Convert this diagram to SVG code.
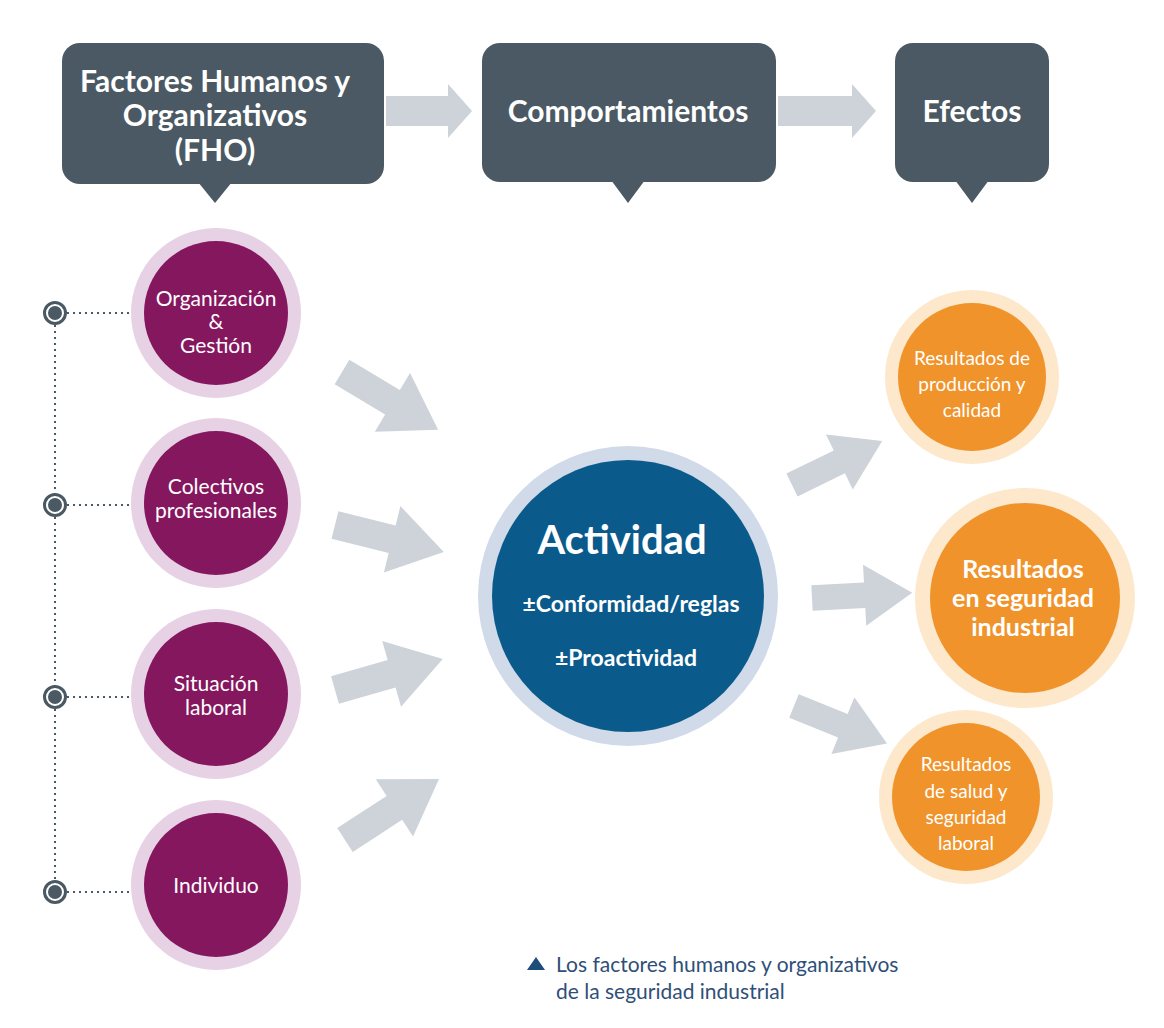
<svg xmlns="http://www.w3.org/2000/svg" width="1164" height="1028" viewBox="0 0 1164 1028">
<style>
text{font-family:Lato,"Open Sans","Liberation Sans",sans-serif;fill:#fff;text-anchor:middle}
.h{font-size:30px;font-weight:bold}
.p{font-size:21px}
.box{fill:#4a5963}
.ga{fill:#cdd3d9}
.po{fill:#e6d2e4}.pi{fill:#85175f}
.oo{fill:#fde8cc}.oi{fill:#f0932b}
.dot{stroke:#4a5963;stroke-width:2;stroke-dasharray:2 4;fill:none}
.nd{fill:#4a5963;stroke:#4a5963;stroke-width:2}
.ndi{fill:none;stroke:#fff;stroke-width:2}
</style>
<defs>
<polygon id="ar" points="0,-15 62,-15 62,-36 118,0 62,36 62,15 0,15"/>
</defs>
<rect width="1164" height="1028" fill="#fff"/>
<g id="h1"><rect class="box" x="62" y="43" width="322" height="141" rx="18"/><polygon class="box" points="198,182 232,182 215,203"/>
<text class="h" x="215" y="92">Factores Humanos y</text><text class="h" x="215" y="126">Organizativos</text><text class="h" x="215" y="161">(FHO)</text></g>
<g id="h2"><rect class="box" x="482" y="43" width="294" height="139" rx="18"/><polygon class="box" points="611,180 645,180 628,203"/>
<text class="h" x="628" y="122">Comportamientos</text></g>
<g id="h3"><rect class="box" x="895" y="43" width="154" height="139" rx="18"/><polygon class="box" points="955,180 989,180 972,203"/>
<text class="h" x="972" y="122">Efectos</text></g>
<g id="connectors">
<polygon class="ga" points="386,96 448,96 448,84 472,111 448,138 448,126 386,126"/>
<polygon class="ga" points="778,96 852,96 852,84 876,111 852,138 852,126 778,126"/>
<use href="#ar" class="ga" transform="translate(342,372) rotate(31) scale(0.95)"/>
<use href="#ar" class="ga" transform="translate(335,525) rotate(14) scale(0.95)"/>
<use href="#ar" class="ga" transform="translate(335,690) rotate(-16) scale(0.95)"/>
<use href="#ar" class="ga" transform="translate(345,840) rotate(-33) scale(0.95)"/>
<use href="#ar" class="ga" transform="translate(792,485) rotate(-26) scale(0.85)"/>
<use href="#ar" class="ga" transform="translate(812,598) rotate(-3) scale(0.85)"/>
<use href="#ar" class="ga" transform="translate(794,706) rotate(22) scale(0.85)"/>
<path class="dot" d="M55,313 V892 M55,313 H145 M55,505 H145 M55,697 H145 M55,892 H145"/>
<circle class="nd" cx="55" cy="313" r="11"/><circle class="nd" cx="55" cy="505" r="11"/><circle class="nd" cx="55" cy="697" r="11"/><circle class="nd" cx="55" cy="892" r="11"/>
<circle class="ndi" cx="55" cy="313" r="8"/><circle class="ndi" cx="55" cy="505" r="8"/><circle class="ndi" cx="55" cy="697" r="8"/><circle class="ndi" cx="55" cy="892" r="8"/>
</g>
<g id="n1"><circle class="po" cx="216" cy="313" r="85"/><circle class="pi" cx="216" cy="313" r="72"/>
<text class="p" x="216" y="306">Organización</text><text class="p" x="216" y="329">&amp;</text><text class="p" x="216" y="353">Gestión</text></g>
<g id="n2"><circle class="po" cx="216" cy="503" r="85"/><circle class="pi" cx="216" cy="503" r="72"/>
<text class="p" x="216" y="494">Colectivos</text><text class="p" x="216" y="518">profesionales</text></g>
<g id="n3"><circle class="po" cx="216" cy="694" r="85"/><circle class="pi" cx="216" cy="694" r="72"/>
<text class="p" x="216" y="691">Situación</text><text class="p" x="216" y="715">laboral</text></g>
<g id="n4"><circle class="po" cx="216" cy="885" r="85"/><circle class="pi" cx="216" cy="885" r="72"/>
<text class="p" x="216" y="893">Individuo</text></g>
<g id="act"><circle fill="#d0dae8" cx="628" cy="596" r="150"/><circle fill="#0b5a8c" cx="628" cy="596" r="136"/>
<text x="622" y="554" style="font-size:40px;font-weight:bold">Actividad</text>
<text x="631" y="612" style="font-size:23px;font-weight:bold">±Conformidad/reglas</text>
<text x="626" y="666" style="font-size:23px;font-weight:bold">±Proactividad</text></g>
<g id="o1"><circle class="oo" cx="972" cy="377" r="87"/><circle class="oi" cx="972" cy="377" r="74"/>
<text class="p" x="972" y="365" style="font-size:19px">Resultados de</text><text class="p" x="972" y="391" style="font-size:19px">producción y</text><text class="p" x="972" y="417" style="font-size:19px">calidad</text></g>
<g id="o2"><circle class="oo" cx="1025" cy="598" r="110"/><circle class="oi" cx="1025" cy="598" r="95"/>
<text x="1023" y="578" style="font-size:25px;font-weight:bold">Resultados</text><text x="1023" y="607" style="font-size:25px;font-weight:bold">en seguridad</text><text x="1023" y="636" style="font-size:25px;font-weight:bold">industrial</text></g>
<g id="o3"><circle class="oo" cx="966" cy="797" r="87"/><circle class="oi" cx="966" cy="797" r="74"/>
<text class="p" x="966" y="771" style="font-size:19px">Resultados</text><text class="p" x="966" y="798" style="font-size:19px">de salud y</text><text class="p" x="966" y="824" style="font-size:19px">seguridad</text><text class="p" x="966" y="850" style="font-size:19px">laboral</text></g>
<g id="caption"><polygon fill="#1d4e7a" points="527,970 545,970 536,957"/>
<text x="556" y="972" style="font-size:21px;fill:#2f4f78;text-anchor:start">Los factores humanos y organizativos</text>
<text x="556" y="999" style="font-size:21px;fill:#2f4f78;text-anchor:start">de la seguridad industrial</text></g>
</svg>
